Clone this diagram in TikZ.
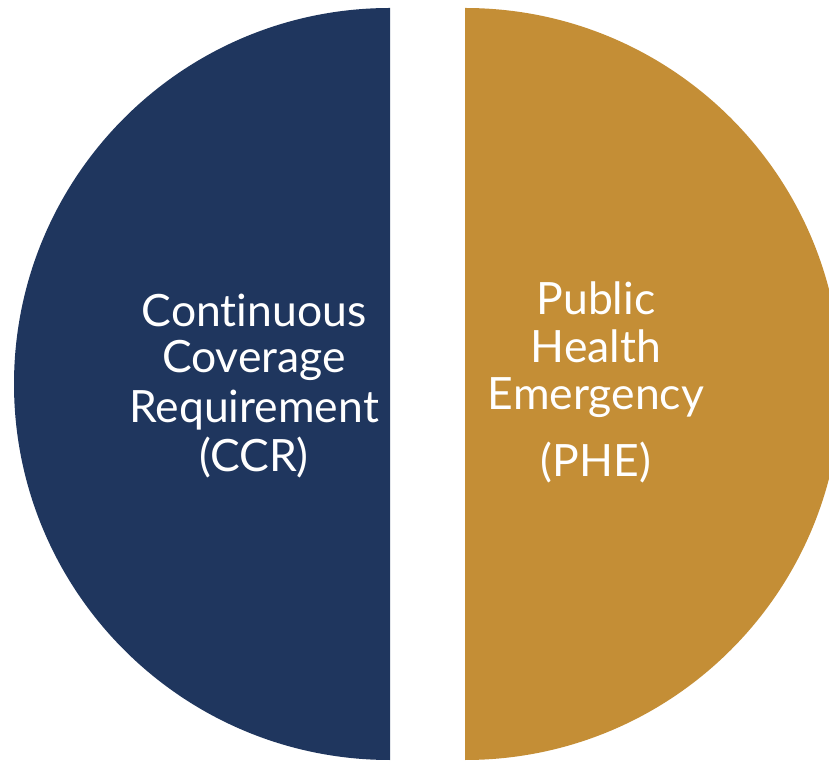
\documentclass[tikz,border=0pt]{standalone}
\usepackage{fontspec}
\setmainfont{Lato}[RawFeature={-liga;-dlig}]
\definecolor{navy}{RGB}{31,54,94}
\definecolor{gold}{RGB}{196,142,54}
\begin{document}
\begin{tikzpicture}[x=1pt,y=1pt,
  lbl/.style={text=white,font=\fontsize{44.5}{50}\selectfont,anchor=base,inner sep=0pt}]
\useasboundingbox (0,0) rectangle (829,760);
\clip (0,0) rectangle (829,760);
\fill[navy] (390,752) arc[start angle=90,end angle=270,radius=376] -- cycle;
\fill[gold] (465,752) arc[start angle=90,end angle=-90,radius=376] -- cycle;
\node[lbl] (l1) at (254,433) {Cont\kern0pt inuous};
\node[lbl] (l2) at (254,387) {Coverage};
\node[lbl] (l3) at (254,337) {Requirement};
\node[lbl] (l4) at (254,288) {(CCR)};
\node[lbl] (r1) at (596,445) {Public};
\node[lbl] (r2) at (596,397) {Health};
\node[lbl] (r3) at (596,350) {Emergency};
\node[lbl] (r4) at (596,283) {(PHE)};
\end{tikzpicture}
\end{document}
